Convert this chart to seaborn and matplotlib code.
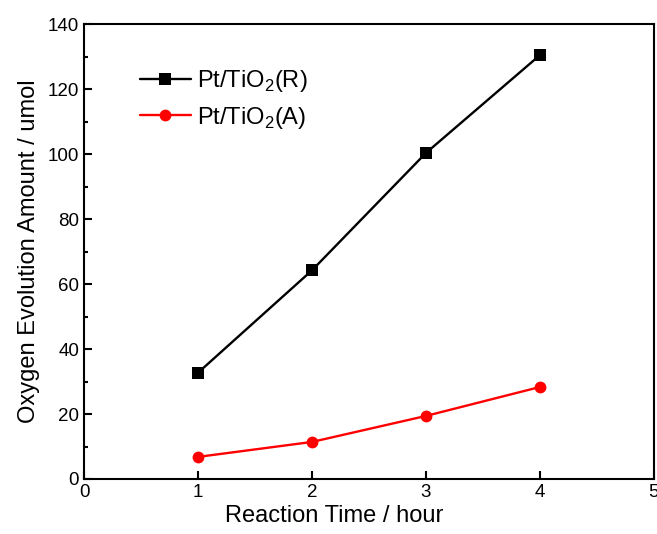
import matplotlib
matplotlib.use("Agg")
import matplotlib.pyplot as plt
import seaborn as sns
import pandas as pd
from matplotlib.ticker import MultipleLocator

time_h = [1, 2, 3, 4]
rutile = [32.7, 64.2, 100.3, 130.4]
anatase = [6.8, 11.4, 19.4, 28.3]
series_names = ["Pt/TiO$_2$(R)", "Pt/TiO$_2$(A)"]

df = pd.DataFrame({
    "time": time_h * 2,
    "amount": rutile + anatase,
    "sample": [series_names[0]] * 4 + [series_names[1]] * 4,
})

sns.set_style("ticks")
plt.rcParams["font.family"] = ["Liberation Sans", "DejaVu Sans"]
plt.rcParams["mathtext.fontset"] = "custom"
plt.rcParams["mathtext.rm"] = "Liberation Sans"
plt.rcParams["text.color"] = "black"
plt.rcParams["axes.labelcolor"] = "black"

fig = plt.figure(figsize=(6.57, 5.34), dpi=100)
ax = fig.add_axes([0.128, 0.103, 0.867, 0.852])

sns.lineplot(data=df, x="time", y="amount", hue="sample", style="sample",
             palette=["black", "red"], markers=["s", "o"], dashes=False,
             markersize=8.5, linewidth=1.7, markeredgewidth=0, ax=ax)

ax.set_xlim(0, 5)
ax.set_ylim(0, 140)
ax.xaxis.set_major_locator(MultipleLocator(1))
ax.yaxis.set_major_locator(MultipleLocator(20))
ax.yaxis.set_minor_locator(MultipleLocator(10))
ax.tick_params(which="both", direction="in", labelsize=13.5, width=1.5,
               color="black", labelcolor="black")
ax.tick_params(which="major", length=6)
ax.tick_params(which="minor", length=3)
for s in ax.spines.values():
    s.set_linewidth(1.5)
    s.set_color("black")

ax.set_xlabel("Reaction Time / hour", fontsize=17)
ax.xaxis.set_label_coords(0.439, -0.058)
ax.set_ylabel("Oxygen Evolution Amount / umol", fontsize=17, labelpad=6)

ax.legend(loc="upper left", bbox_to_anchor=(0.06, 0.95), frameon=False,
          fontsize=17, handlelength=2.2, labelspacing=0.45, handletextpad=0.25)

fig.savefig("out.png", dpi=100)
